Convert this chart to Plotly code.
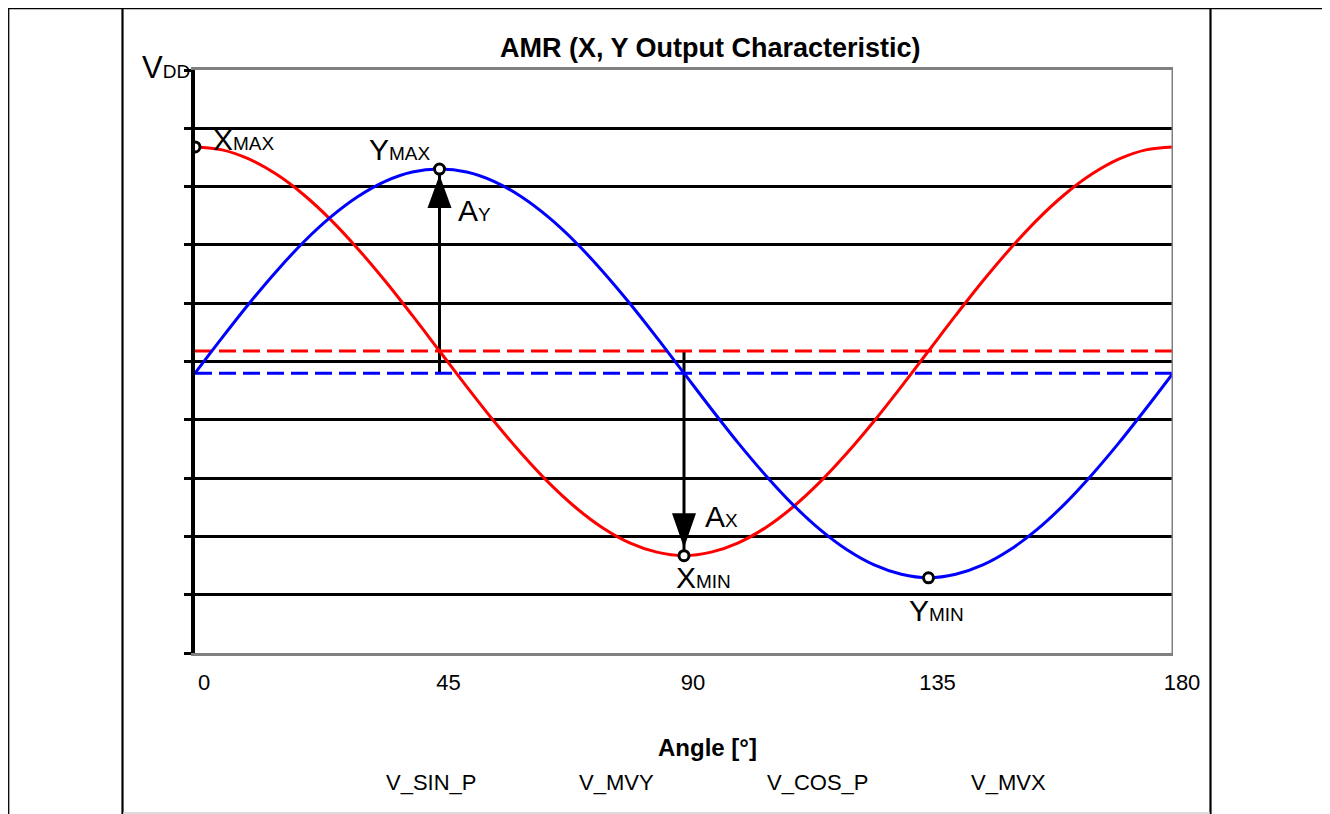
import plotly.graph_objects as go

# ---------------- data ----------------
angle = [0, 5, 10, 15, 20, 25, 30, 35, 40, 45, 50, 55, 60, 65, 70, 75, 80, 85, 90,
         95, 100, 105, 110, 115, 120, 125, 130, 135, 140, 145, 150, 155, 160, 165, 170, 175, 180]
v_cos_p = [8.68, 8.63, 8.47, 8.21, 7.86, 7.43, 6.93, 6.38, 5.79, 5.18, 4.57, 3.98, 3.43, 2.93,
           2.50, 2.15, 1.89, 1.73, 1.67, 1.73, 1.89, 2.15, 2.50, 2.93, 3.43, 3.98, 4.57, 5.18,
           5.79, 6.38, 6.93, 7.43, 7.86, 8.21, 8.47, 8.63, 8.68]
v_sin_p = [4.80, 5.41, 6.00, 6.55, 7.05, 7.48, 7.83, 8.09, 8.25, 8.30, 8.25, 8.09, 7.83, 7.48,
           7.05, 6.55, 6.00, 5.41, 4.80, 4.19, 3.60, 3.05, 2.55, 2.12, 1.77, 1.51, 1.35, 1.29,
           1.35, 1.51, 1.77, 2.12, 2.55, 3.05, 3.60, 4.19, 4.80]
mv_angles = [0, 180]
v_mvx = [5.18, 5.18]
v_mvy = [4.80, 4.80]

peak_angles = [0, 45, 90, 135]
peak_values = [8.68, 8.30, 1.67, 1.29]

x_ticks = [0, 45, 90, 135, 180]
y_ticks = [0, 1, 2, 3, 4, 5, 6, 7, 8, 9, 10]
legend_names = ["V_SIN_P", "V_MVY", "V_COS_P", "V_MVX"]

# ---------------- layout geometry (page pixels; page body has an 8px margin) ----------------
OFF = 8
PAGE_W, PAGE_H = 1330, 814
W, H = PAGE_W - OFF, PAGE_H - OFF
PL, PR, PT, PB = 195, 1173, 70, 653          # plot area in page pixels
L, T = PL - OFF, PT - OFF
R, B = W - (PR - OFF), H - (PB - OFF)
PW, PH = PR - PL, PB - PT
FONT = "Liberation Sans, Arial, sans-serif"


def px(xp):
    return (xp - PL) / PW


def py(yp):
    return (PB - yp) / PH


fig = go.Figure()

fig.add_trace(go.Scatter(x=mv_angles, y=v_mvx, mode="lines", name=legend_names[3],
                         line=dict(color="#FF0000", width=3, dash="17px,7px")))
fig.add_trace(go.Scatter(x=mv_angles, y=v_mvy, mode="lines", name=legend_names[1],
                         line=dict(color="#0000FF", width=3, dash="17px,7px")))
fig.add_trace(go.Scatter(x=angle, y=v_cos_p, mode="lines", name=legend_names[2],
                         line=dict(color="#FF0000", width=3, shape="spline")))
fig.add_trace(go.Scatter(x=angle, y=v_sin_p, mode="lines", name=legend_names[0],
                         line=dict(color="#0000FF", width=3, shape="spline")))
fig.add_trace(go.Scatter(x=peak_angles, y=peak_values, mode="markers", showlegend=False,
                         marker=dict(symbol="circle", size=10, color="white",
                                     line=dict(color="black", width=3))))

shapes = []
# right gray border of plot
shapes.append(dict(type="line", xref="x", yref="y", x0=180, x1=180, y0=0, y1=10,
                   line=dict(color="#808080", width=3), layer="above"))
# amplitude arrows: A_Y (mid Y -> Ymax), A_X (mid X -> Xmin)
shapes.append(dict(type="line", xref="x", yref="y", x0=peak_angles[1], x1=peak_angles[1],
                   y0=v_mvy[0], y1=peak_values[1], line=dict(color="black", width=3), layer="between"))
shapes.append(dict(type="line", xref="x", yref="y", x0=peak_angles[2], x1=peak_angles[2],
                   y0=v_mvx[0], y1=peak_values[2], line=dict(color="black", width=3), layer="between"))
shapes.append(dict(type="path", xref="x", yref="y", xsizemode="pixel", ysizemode="pixel",
                   xanchor=peak_angles[1], yanchor=peak_values[1],
                   path="M 0 -6 L -12 -39 L 12 -39 Z", fillcolor="black",
                   line=dict(width=0), layer="above"))
shapes.append(dict(type="path", xref="x", yref="y", xsizemode="pixel", ysizemode="pixel",
                   xanchor=peak_angles[2], yanchor=peak_values[2],
                   path="M 0 8 L -12 42.5 L 12 42.5 Z", fillcolor="black",
                   line=dict(width=0), layer="above"))
# outer frame lines
shapes.append(dict(type="line", xref="paper", yref="paper", x0=px(8), x1=px(1328), y0=py(8.7), y1=py(8.7),
                   line=dict(color="black", width=1.3)))
shapes.append(dict(type="line", xref="paper", yref="paper", x0=px(8.7), x1=px(8.7), y0=py(8), y1=py(815),
                   line=dict(color="black", width=1.3)))
shapes.append(dict(type="line", xref="paper", yref="paper", x0=px(1327), x1=px(1327), y0=py(8), y1=py(815),
                   line=dict(color="black", width=1.3)))
shapes.append(dict(type="line", xref="paper", yref="paper", x0=px(122.5), x1=px(122.5), y0=py(8), y1=py(815),
                   line=dict(color="black", width=2.2)))
shapes.append(dict(type="line", xref="paper", yref="paper", x0=px(1210.5), x1=px(1210.5), y0=py(8), y1=py(815),
                   line=dict(color="black", width=2.2)))
shapes.append(dict(type="line", xref="paper", yref="paper", x0=px(123), x1=px(1210), y0=py(813), y1=py(813),
                   line=dict(color="#D0D0D0", width=1.5)))


def sub(big, small, bs=30, ss=19):
    return f"<span style='font-size:{bs}px'>{big}</span><span style='font-size:{ss}px'>{small}</span>"


annotations = []
lab = dict(showarrow=False, font=dict(family=FONT, color="black"), xref="x", yref="y")
annotations.append(dict(lab, x=0, y=10, text=sub("V", "DD", 31, 19), xanchor="right", yanchor="middle",
                        xshift=-3, yshift=3))
annotations.append(dict(lab, x=peak_angles[0], y=peak_values[0], text=sub("X", "MAX"), xanchor="left",
                        yanchor="middle", xshift=16, yshift=7))
annotations.append(dict(lab, x=peak_angles[1], y=peak_values[1], text=sub("Y", "MAX"), xanchor="right",
                        yanchor="middle", xshift=-7, yshift=20))
annotations.append(dict(lab, x=peak_angles[1], y=peak_values[1], text=sub("A", "Y"), xanchor="left",
                        yanchor="middle", xshift=16, yshift=-41))
annotations.append(dict(lab, x=peak_angles[2], y=peak_values[2], text=sub("A", "X"), xanchor="left",
                        yanchor="middle", xshift=19, yshift=39))
annotations.append(dict(lab, x=peak_angles[2], y=peak_values[2], text=sub("X", "MIN"), xanchor="left",
                        yanchor="middle", xshift=-10, yshift=-22))
annotations.append(dict(lab, x=peak_angles[3], y=peak_values[3], text=sub("Y", "MIN"), xanchor="left",
                        yanchor="middle", xshift=-22, yshift=-33))
# title and axis title
annotations.append(dict(showarrow=False, xref="paper", yref="paper", x=px(710), y=py(48),
                        text="<b>AMR (X, Y Output Characteristic)</b>",
                        font=dict(family=FONT, size=27, color="black"), xanchor="center", yanchor="middle"))
annotations.append(dict(showarrow=False, xref="paper", yref="paper", x=px(707), y=py(747),
                        text="<b>Angle [°]</b>",
                        font=dict(family=FONT, size=24, color="black"), xanchor="center", yanchor="middle"))
# legend text
for name, xc in zip(legend_names, [431, 616, 818, 1008]):
    annotations.append(dict(showarrow=False, xref="paper", yref="paper", x=px(xc), y=py(782),
                            text=name, font=dict(family=FONT, size=22, color="black"),
                            xanchor="center", yanchor="middle"))

fig.update_layout(
    width=W, height=H, autosize=False,
    margin=dict(l=L, r=R, t=T, b=B, pad=0),
    paper_bgcolor="white", plot_bgcolor="white",
    showlegend=False,
    shapes=shapes, annotations=annotations,
    font=dict(family=FONT, size=22, color="black"),
)
fig.update_xaxes(range=[0, 180], tickvals=x_ticks, ticktext=[str(v) for v in x_ticks],
                 showgrid=False, zeroline=False, showline=True, linecolor="#808080", linewidth=3,
                 mirror=True, ticks="", ticklabelstandoff=8, ticklabelshift=9,
                 tickfont=dict(family=FONT, size=22, color="black"))
fig.update_yaxes(range=[0, 10], tickvals=y_ticks, showticklabels=False,
                 showgrid=True, gridcolor="black", gridwidth=3, zeroline=False,
                 showline=True, linecolor="black", linewidth=3.5,
                 ticks="outside", ticklen=7, tickwidth=3, tickcolor="black")

fig.write_html("out.html")
